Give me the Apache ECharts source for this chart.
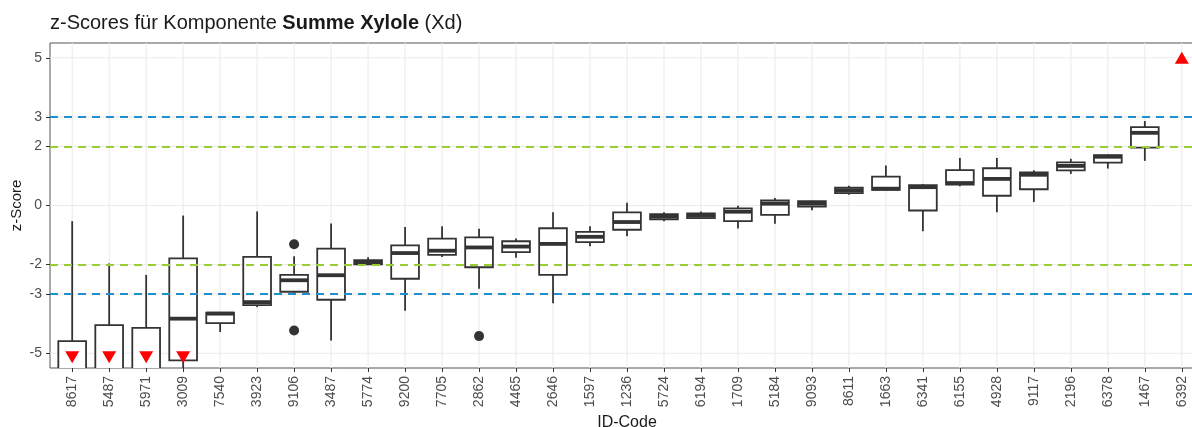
<!DOCTYPE html>
<html>
<head>
<meta charset="utf-8">
<title>z-Scores Summe Xylole</title>
<script src="https://cdn.jsdelivr.net/npm/echarts@6/dist/echarts.min.js"></script>
<style>
  html, body { margin: 0; padding: 0; background: #ffffff; overflow: hidden; }
  /* the canvas is wider than the box: the panel runs past the right edge */
  #chart { width: 1192px; height: 427px; overflow: hidden; position: relative; }
</style>
</head>
<body>
<div id="chart"></div>
<script>
// Laboratory ID codes, ordered by median z-score
const categories = ['8617','5487','5971','3009','7540','3923','9106','3487','5774','9200',
  '7705','2862','4465','2646','1597','1236','5724','6194','1709','5184',
  '9093','8611','1663','6341','6155','4928','9117','2196','6378','1467','6392'];

// Box statistics per lab (null = no box inside the displayed range)
const whiskerLow  = [-9.00, -8.00, -8.00, -7.00, -4.28, -3.44, -2.95, -4.57, -2.00, -3.56,
  -1.74, -2.82, -1.77, -3.31, -1.38, -1.04, -0.53, -0.45, -0.78, -0.62,
  -0.16, 0.36, 0.51, -0.87, 0.65, -0.23, 0.12, 1.07, 1.25, 1.51, null];
const quart1      = [-7.50, -6.50, -6.50, -5.24, -3.98, -3.37, -2.92, -3.19, -1.99, -2.48,
  -1.67, -2.09, -1.58, -2.35, -1.24, -0.82, -0.47, -0.43, -0.53, -0.32,
  -0.04, 0.42, 0.53, -0.17, 0.71, 0.33, 0.55, 1.19, 1.45, 1.96, null];
const medians     = [-6.20, -5.90, -5.80, -3.83, -3.66, -3.27, -2.53, -2.36, -1.93, -1.61,
  -1.53, -1.42, -1.39, -1.30, -1.06, -0.56, -0.38, -0.34, -0.21, 0.06,
  0.06, 0.51, 0.57, 0.62, 0.76, 0.90, 1.04, 1.34, 1.65, 2.46, null];
const quart3      = [-4.59, -4.05, -4.14, -1.79, -3.63, -1.74, -2.35, -1.46, -1.85, -1.35,
  -1.12, -1.08, -1.21, -0.77, -0.89, -0.23, -0.29, -0.27, -0.10, 0.17,
  0.15, 0.60, 0.98, 0.69, 1.20, 1.26, 1.12, 1.46, 1.70, 2.65, null];
const whiskerHigh = [-0.53, -1.96, -2.35, -0.34, -3.63, -0.20, -1.72, -0.61, -1.75, -0.73,
  -0.70, -0.79, -1.12, -0.23, -0.70, 0.09, -0.23, -0.20, -0.01, 0.25,
  0.16, 0.67, 1.35, 0.73, 1.61, 1.61, 1.19, 1.58, 1.72, 2.86, null];

// Outliers: [category index, z-score]
const outliers = [[6, -1.31], [6, -4.23], [11, -4.42]];

// Values beyond the display range, marked at the edge
const belowRange = [[0, -5], [1, -5], [2, -5], [3, -5]];
const aboveRange = [[30, 5]];

// Axis breaks and limit lines
const yBreaks = [5, 3, 2, 0, -2, -3, -5];
const warnLimits = [2, -2];
const actionLimits = [3, -3];

const xIndex = categories.map((_, i) => i);
const FONT = '"Liberation Sans", Arial, Helvetica, sans-serif';
const INK = '#333333';

const boxData = categories.map((_, i) =>
  [i, whiskerLow[i], quart1[i], medians[i], quart3[i], whiskerHigh[i]]
).filter(d => d[1] !== null);

const chart = echarts.init(document.getElementById('chart'), null,
  { renderer: 'canvas', width: 1204, height: 427 });

chart.setOption({
  animation: false,
  backgroundColor: '#ffffff',
  title: {
    left: 50,
    top: 13,
    padding: 0,
    text: '{n|z-Scores für Komponente }{b|Summe Xylole}{n| (Xd)}',
    textStyle: {
      rich: {
        n: { fontFamily: FONT, fontSize: 20, color: '#1a1a1a', fontWeight: 'normal' },
        b: { fontFamily: FONT, fontSize: 20, color: '#1a1a1a', fontWeight: 'bold' }
      }
    }
  },
  grid: {
    left: 50,
    top: 43,
    width: 1154,
    height: 325,
    outerBoundsMode: 'none',
    containLabel: false,
    show: true,
    borderColor: '#555555',
    borderWidth: 1,
    backgroundColor: 'transparent'
  },
  xAxis: {
    type: 'value',
    position: 'bottom',
    min: -0.6,
    max: 30.6,
    name: 'ID-Code',
    nameLocation: 'middle',
    nameGap: 43,
    nameTextStyle: { fontFamily: FONT, fontSize: 16, color: '#1a1a1a' },
    axisLine: { show: false, onZero: false },
    splitLine: { show: false },
    axisTick: { show: true, customValues: xIndex, length: 4, lineStyle: { color: INK } },
    axisLabel: {
      customValues: xIndex,
      rotate: 90,
      margin: 8,
      fontFamily: FONT,
      fontSize: 14,
      color: '#4d4d4d',
      formatter: v => categories[Math.round(v)]
    }
  },
  yAxis: {
    type: 'value',
    position: 'left',
    min: -5.5,
    max: 5.5,
    name: 'z-Score',
    nameLocation: 'middle',
    nameRotate: 90,
    nameGap: 26,
    nameMoveOverlap: false,
    nameTextStyle: { fontFamily: FONT, fontSize: 15, color: '#1a1a1a' },
    axisLine: { show: false, onZero: false },
    splitLine: { show: false },
    axisTick: { show: true, customValues: yBreaks, length: 4, lineStyle: { color: INK } },
    axisLabel: {
      customValues: yBreaks,
      margin: 8,
      fontFamily: FONT,
      fontSize: 14,
      color: '#4d4d4d'
    }
  },
  series: [
    {
      // panel grid lines at every lab and every axis break
      type: 'custom',
      silent: true,
      z: 1,
      data: [0],
      renderItem: (params, api) => {
        const cs = params.coordSys;
        const children = [];
        xIndex.forEach(i => {
          const x = api.coord([i, 0])[0];
          children.push({ type: 'line', shape: { x1: x, y1: cs.y, x2: x, y2: cs.y + cs.height },
            style: { stroke: '#ebebeb', lineWidth: 1.1 } });
        });
        yBreaks.forEach(v => {
          const y = api.coord([0, v])[1];
          children.push({ type: 'line', shape: { x1: cs.x, y1: y, x2: cs.x + cs.width, y2: y },
            style: { stroke: '#ebebeb', lineWidth: 1.1 } });
        });
        return { type: 'group', children };
      }
    },
    {
      // warning (±2) and action (±3) limits
      type: 'line',
      data: [],
      z: 2,
      markLine: {
        silent: true,
        symbol: ['none', 'none'],
        label: { show: false },
        data: [
          ...warnLimits.map(v => ({ yAxis: v, lineStyle: { color: '#9ACD32', width: 2, type: [8, 6], opacity: 1 } })),
          ...actionLimits.map(v => ({ yAxis: v, lineStyle: { color: '#1E90D0', width: 2, type: [8, 6], opacity: 1 } }))
        ]
      }
    },
    {
      // box-and-whisker per lab
      type: 'custom',
      clip: true,
      z: 3,
      data: boxData,
      encode: { x: 0, y: [1, 2, 3, 4, 5] },
      renderItem: (params, api) => {
        const i = api.value(0);
        const x = api.coord([i, 0])[0];
        const bw = api.size([1, 0])[0] * 0.75;
        const y = v => api.coord([i, v])[1];
        const yLow = y(api.value(1)), yQ1 = y(api.value(2)), yMed = y(api.value(3));
        const yQ3 = y(api.value(4)), yHigh = y(api.value(5));
        return {
          type: 'group',
          children: [
            { type: 'line', shape: { x1: x, y1: yHigh, x2: x, y2: yQ3 }, style: { stroke: INK, lineWidth: 1.8 } },
            { type: 'line', shape: { x1: x, y1: yQ1, x2: x, y2: yLow }, style: { stroke: INK, lineWidth: 1.8 } },
            { type: 'rect', shape: { x: x - bw / 2, y: yQ3, width: bw, height: yQ1 - yQ3 },
              style: { fill: '#ffffff', stroke: INK, lineWidth: 1.8 } },
            { type: 'line', shape: { x1: x - bw / 2, y1: yMed, x2: x + bw / 2, y2: yMed },
              style: { stroke: INK, lineWidth: 3.8 } }
          ]
        };
      }
    },
    {
      type: 'scatter',
      z: 4,
      data: outliers,
      symbol: 'circle',
      symbolSize: 10,
      itemStyle: { color: INK, opacity: 1 }
    },
    {
      type: 'scatter',
      z: 5,
      data: belowRange,
      symbol: 'triangle',
      symbolRotate: 180,
      symbolSize: [14, 12],
      symbolOffset: [0, 4],
      itemStyle: { color: '#ff0000', opacity: 1 }
    },
    {
      type: 'scatter',
      z: 5,
      data: aboveRange,
      symbol: 'triangle',
      symbolSize: [14, 12],
      itemStyle: { color: '#ff0000', opacity: 1 }
    }
  ]
});
</script>
</body>
</html>
